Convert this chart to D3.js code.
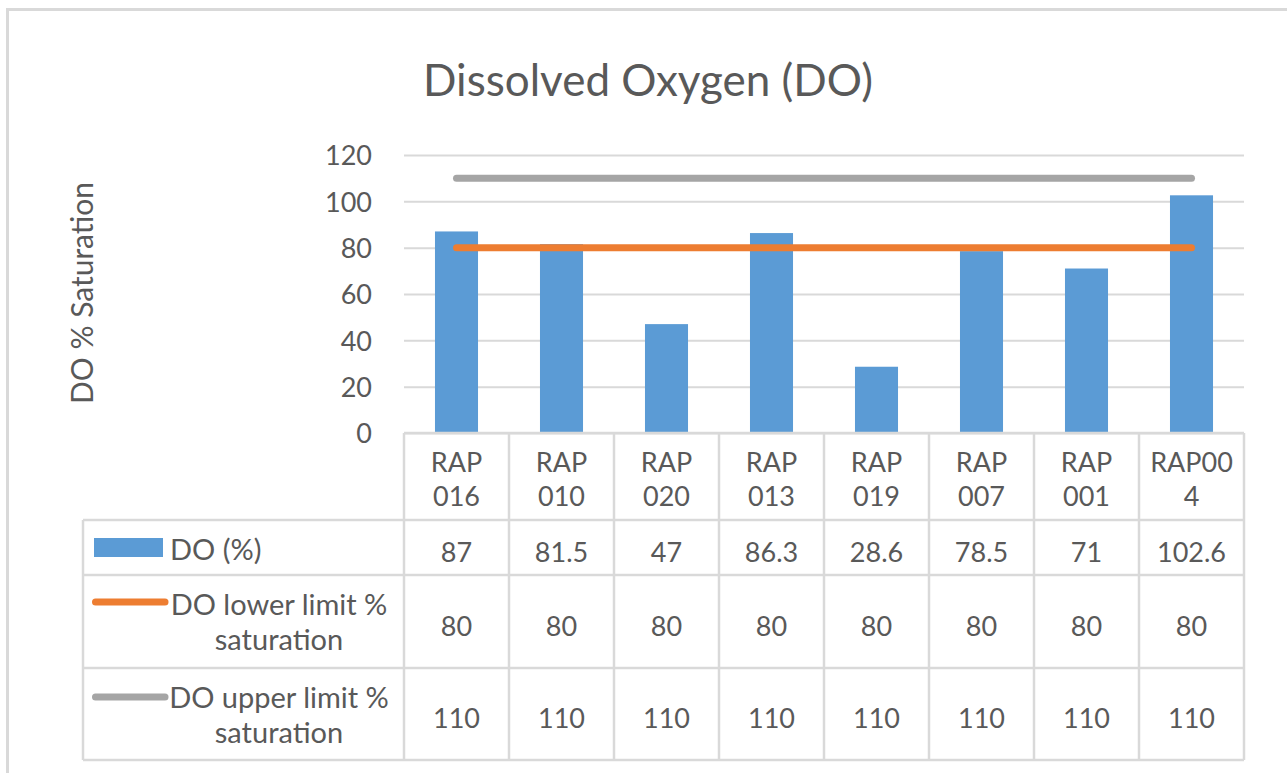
<!DOCTYPE html>
<html>
<head>
<meta charset="utf-8">
<script src="https://cdn.jsdelivr.net/npm/d3@7"></script>
<style>
  html, body { margin: 0; padding: 0; background: #ffffff; }
  svg { display: block; }
  text { font-family: Lato, "Open Sans", sans-serif; fill: #595959; }
</style>
</head>
<body>
<svg id="chart" width="1287" height="773"></svg>
<script>
// ---- data ----
const categories = ["RAP 016", "RAP 010", "RAP 020", "RAP 013", "RAP 019", "RAP 007", "RAP 001", "RAP004"];
const doValues = [87, 81.5, 47, 86.3, 28.6, 78.5, 71, 102.6];
const lowerLimit = [80, 80, 80, 80, 80, 80, 80, 80];
const upperLimit = [110, 110, 110, 110, 110, 110, 110, 110];
const yTicks = [0, 20, 40, 60, 80, 100, 120];
const seriesNames = ["DO (%)", "DO lower limit % saturation", "DO upper limit % saturation"];
const titleText = "Dissolved Oxygen (DO)";
const yAxisTitle = "DO % Saturation";

// ---- styles ----
const blue = "#5B9BD5", orange = "#ED7D31", gray = "#A5A5A5";
const gridColor = "#D9D9D9";
const tFont = 27;

const svg = d3.select("#chart");

// outer chart border
svg.append("rect").attr("x", 7.5).attr("y", 9.5).attr("width", 1300).attr("height", 800)
  .attr("fill", "none").attr("stroke", gridColor).attr("stroke-width", 3);

// scales
const plotLeft = 404, plotRight = 1244, plotTop = 155, plotBottom = 433;
const x = d3.scaleBand().domain(categories).range([plotLeft, plotRight]).padding(0);
const y = d3.scaleLinear().domain([0, 120]).range([plotBottom, plotTop]);
const barW = x.bandwidth() * 0.41;

// gridlines
const grid = svg.append("g").attr("transform", `translate(${plotLeft},0)`)
  .call(d3.axisLeft(y).tickValues(yTicks).tickSize(-(plotRight - plotLeft)).tickFormat(""));
grid.select(".domain").remove();
grid.selectAll("line").attr("stroke", gridColor).attr("stroke-width", 2);

// y tick labels
const yAx = svg.append("g").attr("transform", `translate(372,0)`)
  .call(d3.axisLeft(y).tickValues(yTicks).tickSize(0).tickPadding(0));
yAx.select(".domain").remove();
yAx.selectAll("text").attr("font-size", tFont).attr("fill", "#595959")
  .style("font-family", "Lato, 'Open Sans', sans-serif").attr("dy", "0.36em");

// bars
svg.append("g").selectAll("rect").data(doValues).join("rect")
  .attr("x", (d, i) => x(categories[i]) + (x.bandwidth() - barW) / 2)
  .attr("y", d => y(d))
  .attr("width", barW)
  .attr("height", d => y(0) - y(d))
  .attr("fill", blue);

// limit lines
const line = d3.line().x((d, i) => x(categories[i]) + x.bandwidth() / 2).y(d => y(d));
[[upperLimit, gray], [lowerLimit, orange]].forEach(([vals, col]) => {
  svg.append("path").datum(vals).attr("d", line).attr("fill", "none")
    .attr("stroke", col).attr("stroke-width", 7).attr("stroke-linecap", "round");
});

// title
svg.append("text").attr("x", 648).attr("y", 96).attr("text-anchor", "middle")
  .attr("font-size", 44).text(titleText);

// y axis title
svg.append("text").attr("transform", "translate(93,293) rotate(-90)")
  .attr("text-anchor", "middle").attr("font-size", 30).text(yAxisTitle);

// ---- data table ----
const rowEdges = [433, 520, 575, 668, 760];
const tableLeft = 83;
const tbl = svg.append("g").attr("stroke", gridColor).attr("stroke-width", 2.5);
rowEdges.forEach((ry, i) => {
  tbl.append("line").attr("x1", i === 0 ? plotLeft : tableLeft).attr("x2", plotRight)
    .attr("y1", ry).attr("y2", ry);
});
const colEdges = categories.map(c => x(c)).concat([plotRight]);
colEdges.forEach(cx => {
  tbl.append("line").attr("x1", cx).attr("x2", cx).attr("y1", rowEdges[0]).attr("y2", rowEdges[4]);
});
tbl.append("line").attr("x1", tableLeft).attr("x2", tableLeft).attr("y1", rowEdges[1]).attr("y2", rowEdges[4]);

// category labels (wrapped)
function wrapLabel(s) {
  if (s.includes(" ")) return s.split(" ");
  return [s.slice(0, 5), s.slice(5)];
}
categories.forEach(c => {
  const lines = wrapLabel(c);
  const t = svg.append("text").attr("text-anchor", "middle").attr("font-size", tFont);
  lines.forEach((ln, j) => {
    t.append("tspan").attr("x", x(c) + x.bandwidth() / 2).attr("y", 472 + j * 34).text(ln);
  });
});

// values
const rows = [doValues, lowerLimit, upperLimit];
const rowBaselines = [562, 636, 728];
rows.forEach((vals, r) => {
  svg.append("g").selectAll("text").data(vals).join("text")
    .attr("x", (d, i) => x(categories[i]) + x.bandwidth() / 2)
    .attr("y", rowBaselines[r])
    .attr("text-anchor", "middle").attr("font-size", tFont)
    .text(d => d);
});

// legend keys
svg.append("rect").attr("x", 94).attr("y", 538).attr("width", 69).attr("height", 19).attr("fill", blue);
svg.append("text").attr("x", 170).attr("y", 560).attr("font-size", 29).text(seriesNames[0]);

const legendLines = [[orange, 602, 615], [gray, 697, 708]];
legendLines.forEach(([col, ly, tb], k) => {
  svg.append("line").attr("x1", 95.5).attr("x2", 165).attr("y1", ly).attr("y2", ly)
    .attr("stroke", col).attr("stroke-width", 7).attr("stroke-linecap", "round");
  const name = seriesNames[k + 1];
  const cut = name.lastIndexOf(" ");
  const t = svg.append("text").attr("text-anchor", "middle").attr("font-size", 29);
  t.append("tspan").attr("x", 279).attr("y", tb).text(name.slice(0, cut));
  t.append("tspan").attr("x", 279).attr("y", tb + 35).text(name.slice(cut + 1));
});
</script>
</body>
</html>
